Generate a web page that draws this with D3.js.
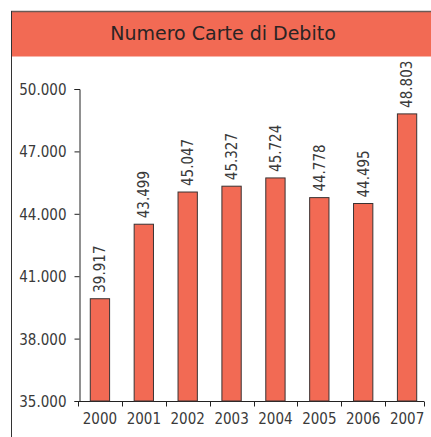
<!DOCTYPE html>
<meta charset="utf-8">
<style>
body { margin: 0; background: #fff; }
svg { display: block; }
.label, .tick text {
  font-family: "DejaVu Sans Condensed", "Liberation Sans Narrow", sans-serif;
  font-size: 15px;
  fill: #3a3a3a;
}
.title {
  font-family: "DejaVu Sans", sans-serif;
  font-size: 19px;
  fill: #2a2424;
  text-anchor: middle;
}
</style>
<svg width="431" height="437"></svg>
<script src="https://cdn.jsdelivr.net/npm/d3@7"></script>
<script>

var years = ["2000", "2001", "2002", "2003", "2004", "2005", "2006", "2007"],
    cards = [39917, 43499, 45047, 45327, 45724, 44778, 44495, 48803],
    yTicks = [35000, 38000, 41000, 44000, 47000, 50000];

var svg = d3.select("svg"),
    width = +svg.attr("width"),
    height = +svg.attr("height");

var fmt = function(v) { return d3.format(",")(v).replace(/,/g, "."); };

// frame + header
svg.append("rect")
    .attr("x", 11.5).attr("y", 11.5)
    .attr("width", width).attr("height", 45)
    .style("fill", "#f26a54");
svg.append("line")
    .attr("x1", 11).attr("x2", width).attr("y1", 11.5).attr("y2", 11.5)
    .style("stroke", "#6b5a55").style("stroke-width", 1.5);
svg.append("line")
    .attr("x1", 11.5).attr("x2", 11.5).attr("y1", 11).attr("y2", height)
    .style("stroke", "#333");

svg.append("text")
    .attr("class", "title")
    .attr("x", 223).attr("y", 40)
    .text("Numero Carte di Debito");

var x = d3.scaleBand()
    .domain(years)
    .range([78, 429])
    .paddingInner(0.56)
    .paddingOuter(0.28);

var y = d3.scaleLinear()
    .domain([35000, 50000])
    .range([401, 89]);

// y axis
var yAxis = svg.append("g")
    .attr("transform", "translate(79.5,0)")
    .call(d3.axisLeft(y).tickValues(yTicks).tickFormat(fmt).tickSizeOuter(0).tickSize(5).tickPadding(8));
yAxis.select(".domain").style("stroke", "#222");
yAxis.selectAll(".tick line").style("stroke", "#222");
yAxis.selectAll(".tick text").attr("dy", "0.36em");

// x axis with ticks at band boundaries
var xAxis = svg.append("g")
    .attr("transform", "translate(0,401.5)");
xAxis.append("line")
    .attr("x1", x.range()[0]).attr("x2", 424)
    .style("stroke", "#222");
xAxis.selectAll(".btick")
    .data(years.concat(["end"]))
  .enter().append("line")
    .attr("class", "btick")
    .attr("x1", function(d, i) { return Math.round(x.range()[0] + i * x.step() + (i == years.length ? -5 : 0)) + 0.5; })
    .attr("x2", function(d, i) { return Math.round(x.range()[0] + i * x.step() + (i == years.length ? -5 : 0)) + 0.5; })
    .attr("y1", 0).attr("y2", 5)
    .style("stroke", "#222");
xAxis.selectAll(".tick")
    .data(years)
  .enter().append("text")
    .attr("class", "label")
    .attr("x", function(d) { return x(d) + x.bandwidth() / 2; })
    .attr("y", 22)
    .attr("text-anchor", "middle")
    .text(function(d) { return d; });

// bars
var bar = svg.append("g").selectAll(".bar")
    .data(years)
  .enter().append("g")
    .attr("class", "bar");

bar.append("rect")
    .attr("x", function(d) { return x(d); })
    .attr("y", function(d, i) { return y(cards[i]); })
    .attr("width", x.bandwidth())
    .attr("height", function(d, i) { return y(35000) - y(cards[i]); })
    .style("fill", "#f26a54")
    .style("stroke", "#3a3232")
    .style("stroke-width", 1);

bar.append("text")
    .attr("class", "label")
    .attr("transform", function(d, i) {
      return "translate(" + (x(d) + x.bandwidth() / 2) + "," + (y(cards[i]) - 6) + ") rotate(-90)";
    })
    .attr("dy", "0.36em")
    .text(function(d, i) { return fmt(cards[i]); });

</script>
